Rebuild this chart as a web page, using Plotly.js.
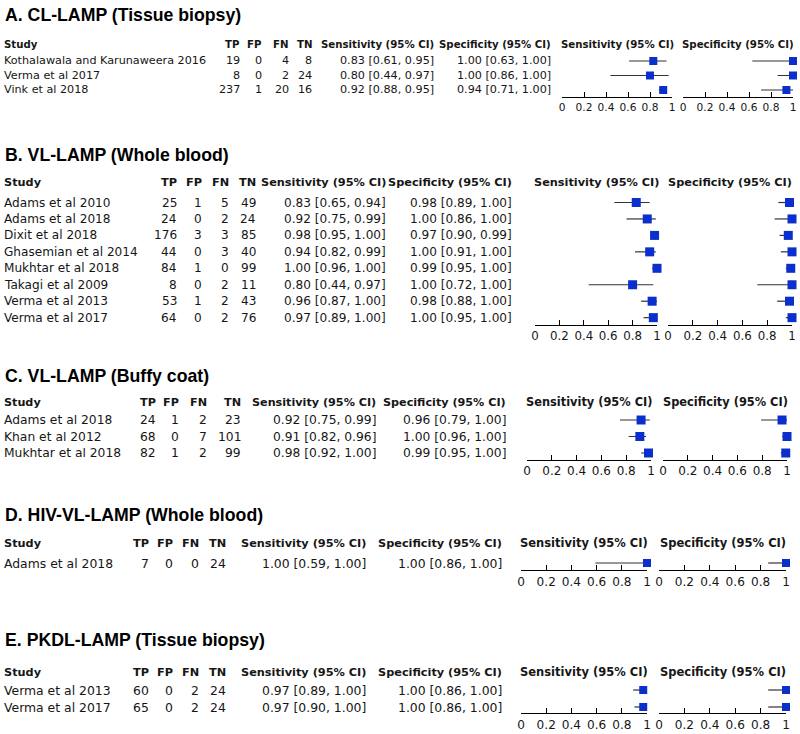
<!DOCTYPE html>
<html><head><meta charset="utf-8">
<script src="https://cdn.plot.ly/plotly-3.0.1.min.js"></script>
<style>html,body{margin:0;padding:0;background:#fff}#chart{width:800px;height:734px}</style>
</head><body><div id="chart"></div>
<script>
// ---------------- DATA ----------------
const panelTitles = ['A. CL-LAMP (Tissue biopsy)','B. VL-LAMP (Whole blood)','C. VL-LAMP (Buffy coat)','D. HIV-VL-LAMP (Whole blood)','E. PKDL-LAMP (Tissue biopsy)'];
const colHeads = ['Study','TP','FP','FN','TN','Sensitivity (95% CI)','Specificity (95% CI)'];
const forestHeads = ['Sensitivity (95% CI)','Specificity (95% CI)'];
const tickVals = [0,0.2,0.4,0.6,0.8,1];
const tickText = ['0','0.2','0.4','0.6','0.8','1'];

// Panel A
const studiesA = ['Kothalawala and Karunaweera 2016','Verma et al 2017','Vink et al 2018'];
const tpA = [19,8,237], fpA = [0,0,1], fnA = [4,2,20], tnA = [8,24,16];
const sensA = [0.83,0.80,0.92], sensLoA = [0.61,0.44,0.88], sensHiA = [0.95,0.97,0.95];
const specA = [1.00,1.00,0.94], specLoA = [0.63,0.86,0.71], specHiA = [1.00,1.00,1.00];
// Panel B
const studiesB = ['Adams et al 2010','Adams et al 2018','Dixit et al 2018','Ghasemian et al 2014','Mukhtar et al 2018','Takagi et al 2009','Verma et al 2013','Verma et al 2017'];
const tpB = [25,24,176,44,84,8,53,64], fpB = [1,0,3,0,1,0,1,0], fnB = [5,2,3,3,0,2,2,2], tnB = [49,24,85,40,99,11,43,76];
const sensB = [0.83,0.92,0.98,0.94,1.00,0.80,0.96,0.97], sensLoB = [0.65,0.75,0.95,0.82,0.96,0.44,0.87,0.89], sensHiB = [0.94,0.99,1.00,0.99,1.00,0.97,1.00,1.00];
const specB = [0.98,1.00,0.97,1.00,0.99,1.00,0.98,1.00], specLoB = [0.89,0.86,0.90,0.91,0.95,0.72,0.88,0.95], specHiB = [1.00,1.00,0.99,1.00,1.00,1.00,1.00,1.00];
// Panel C
const studiesC = ['Adams et al 2018','Khan et al 2012','Mukhtar et al 2018'];
const tpC = [24,68,82], fpC = [1,0,1], fnC = [2,7,2], tnC = [23,101,99];
const sensC = [0.92,0.91,0.98], sensLoC = [0.75,0.82,0.92], sensHiC = [0.99,0.96,1.00];
const specC = [0.96,1.00,0.99], specLoC = [0.79,0.96,0.95], specHiC = [1.00,1.00,1.00];
// Panel D
const studiesD = ['Adams et al 2018'];
const tpD = [7], fpD = [0], fnD = [0], tnD = [24];
const sensD = [1.00], sensLoD = [0.59], sensHiD = [1.00];
const specD = [1.00], specLoD = [0.86], specHiD = [1.00];
// Panel E
const studiesE = ['Verma et al 2013','Verma et al 2017'];
const tpE = [60,65], fpE = [0,0], fnE = [2,2], tnE = [24,24];
const sensE = [0.97,0.97], sensLoE = [0.89,0.90], sensHiE = [1.00,1.00];
const specE = [1.00,1.00], specLoE = [0.86,0.86], specHiE = [1.00,1.00];

// ---------------- LAYOUT GEOMETRY (pixels) ----------------
const W = 800, H = 734;
const geoms = [
  {titleY:15, headY:44, rowTop:61, step:14.5, axisY:97, reg:11.2, bold:10.2, fbold:10.2, tick:10.6,
   cols:[241,263,290,313,435,552], sens:[562,672], spec:[683,793], ms:8},
  {titleY:155, headY:183, rowTop:202.5, step:16.45, axisY:325, reg:12.1, bold:11.3, fbold:11.3, tick:11.8,
   cols:[178,203,230,257,387,513], sens:[535,657], spec:[668,792], ms:9},
  {titleY:376, headY:402, rowTop:420, step:16.5, axisY:460, reg:12.3, bold:11.2, fbold:11.4, tick:12.0,
   cols:[157,180,208,242,377,507], sens:[527,651], spec:[663,787], ms:9},
  {titleY:515, headY:543, rowTop:563, step:17, axisY:570, reg:12.4, bold:11.3, fbold:11.5, tick:12.1,
   cols:[150,174,200,227,367,503], sens:[521,647], spec:[659,786], ms:8},
  {titleY:640, headY:672, rowTop:690, step:17, axisY:713, reg:12.4, bold:11.3, fbold:11.5, tick:12.1,
   cols:[150,174,200,227,367,503], sens:[521,647], spec:[659,786], ms:8}
];
const panelData = [
  {studies:studiesA, tp:tpA, fp:fpA, fn:fnA, tn:tnA, sens:sensA, sensLo:sensLoA, sensHi:sensHiA, spec:specA, specLo:specLoA, specHi:specHiA},
  {studies:studiesB, tp:tpB, fp:fpB, fn:fnB, tn:tnB, sens:sensB, sensLo:sensLoB, sensHi:sensHiB, spec:specB, specLo:specLoB, specHi:specHiB},
  {studies:studiesC, tp:tpC, fp:fpC, fn:fnC, tn:tnC, sens:sensC, sensLo:sensLoC, sensHi:sensHiC, spec:specC, specLo:specLoC, specHi:specHiC},
  {studies:studiesD, tp:tpD, fp:fpD, fn:fnD, tn:tnD, sens:sensD, sensLo:sensLoD, sensHi:sensHiD, spec:specD, specLo:specLoD, specHi:specHiD},
  {studies:studiesE, tp:tpE, fp:fpE, fn:fnE, tn:tnE, sens:sensE, sensLo:sensLoE, sensHi:sensHiE, spec:specE, specLo:specLoE, specHi:specHiE}
];

const FONT = 'DejaVu Sans, Verdana, sans-serif';
const TFONT = 'Liberation Sans, Arial, sans-serif';
const TXT = '#161616';
const BLUE = '#0b2fcc';

const px = v => v / W;
const py = v => 1 - v / H;
const fmt = (v, lo, hi) => v.toFixed(2) + ' [' + lo.toFixed(2) + ', ' + hi.toFixed(2) + ']';

const traces = [];
const annotations = [];
const layout = {
  width: W, height: H,
  margin: {l:0, r:0, t:0, b:0},
  paper_bgcolor: '#fff', plot_bgcolor: 'rgba(0,0,0,0)',
  showlegend: false,
  annotations: annotations
};

function ann(o) {
  annotations.push(Object.assign({showarrow:false, borderpad:0}, o));
}

geoms.forEach((g, p) => {
  const d = panelData[p];
  const rows = d.studies.map((_, i) => i);
  const regF = {family:FONT, size:g.reg, color:TXT};
  const boldF = {family:FONT, size:g.bold, color:TXT, weight:'bold'};
  const fBold = {family:FONT, size:g.fbold, color:TXT, weight:'bold'};
  const kS = 2 * p + 1, kP = 2 * p + 2;

  // title
  ann({xref:'paper', yref:'paper', x:px(4), y:py(g.titleY), xanchor:'left', yanchor:'middle',
       text:'<b>' + panelTitles[p] + '</b>', font:{family:TFONT, size:17.7, color:'#000'}});
  // column headers
  ann({xref:'paper', yref:'paper', x:px(3), y:py(g.headY), xanchor:'left', yanchor:'middle',
       text:'<b>' + colHeads[0] + '</b>', font:boldF});
  for (let j = 1; j < colHeads.length; j++) {
    ann({xref:'paper', yref:'paper', x:px(g.cols[j - 1]), y:py(g.headY), xanchor:'right', yanchor:'middle',
         text:'<b>' + colHeads[j] + '</b>', font:boldF});
  }
  // forest headers
  [g.sens, g.spec].forEach((r, j) => {
    ann({xref:'paper', yref:'paper', x:px((r[0] + r[1]) / 2), y:py(g.headY), xanchor:'center', yanchor:'middle',
         text:'<b>' + forestHeads[j] + '</b>', font:fBold});
  });
  // rows
  const yr = 'y' + (kS === 1 ? '' : kS);
  rows.forEach(i => {
    ann({xref:'paper', yref:yr, x:px(3), y:i, xanchor:'left', yanchor:'middle', text:d.studies[i], font:regF});
    const vals = [d.tp[i], d.fp[i], d.fn[i], d.tn[i],
                  fmt(d.sens[i], d.sensLo[i], d.sensHi[i]), fmt(d.spec[i], d.specLo[i], d.specHi[i])];
    vals.forEach((v, j) => {
      ann({xref:'paper', yref:yr, x:px(g.cols[j]), y:i, xanchor:'right', yanchor:'middle', text:String(v), font:regF});
    });
  });

  // axes
  const vb = (g.axisY - g.rowTop) / g.step;
  const topPx = g.rowTop - g.step;
  [[kS, g.sens, d.sens, d.sensLo, d.sensHi], [kP, g.spec, d.spec, d.specLo, d.specHi]].forEach(([k, r, v, lo, hi]) => {
    const xn = 'xaxis' + (k === 1 ? '' : k), yn = 'yaxis' + (k === 1 ? '' : k);
    const xs = 'x' + (k === 1 ? '' : k), ys = 'y' + (k === 1 ? '' : k);
    layout[xn] = {
      domain:[px(r[0]), px(r[1])], range:[0, 1], anchor:ys,
      showline:true, linecolor:'#000', linewidth:1, mirror:false,
      ticks:'inside', ticklen:5, tickwidth:1, tickcolor:'#000',
      tickmode:'array', tickvals:tickVals, ticktext:tickText,
      tickfont:{family:FONT, size:g.tick, color:TXT},
      showgrid:false, zeroline:false, fixedrange:true
    };
    layout[yn] = {
      domain:[py(g.axisY), py(topPx)], range:[vb, -1], anchor:xs,
      visible:false, showgrid:false, zeroline:false, fixedrange:true
    };
    traces.push({
      type:'scatter', mode:'markers', x:v, y:rows, xaxis:xs, yaxis:ys,
      marker:{symbol:'square', size:g.ms, color:BLUE, line:{width:0}},
      error_x:{type:'data', symmetric:false,
               array:v.map((e, i) => hi[i] - e), arrayminus:v.map((e, i) => e - lo[i]),
               color:'#333', thickness:1.2, width:0},
      cliponaxis:false, hoverinfo:'skip'
    });
  });
});

Plotly.newPlot('chart', traces, layout, {staticPlot:true, displayModeBar:false});
</script>
</body></html>
